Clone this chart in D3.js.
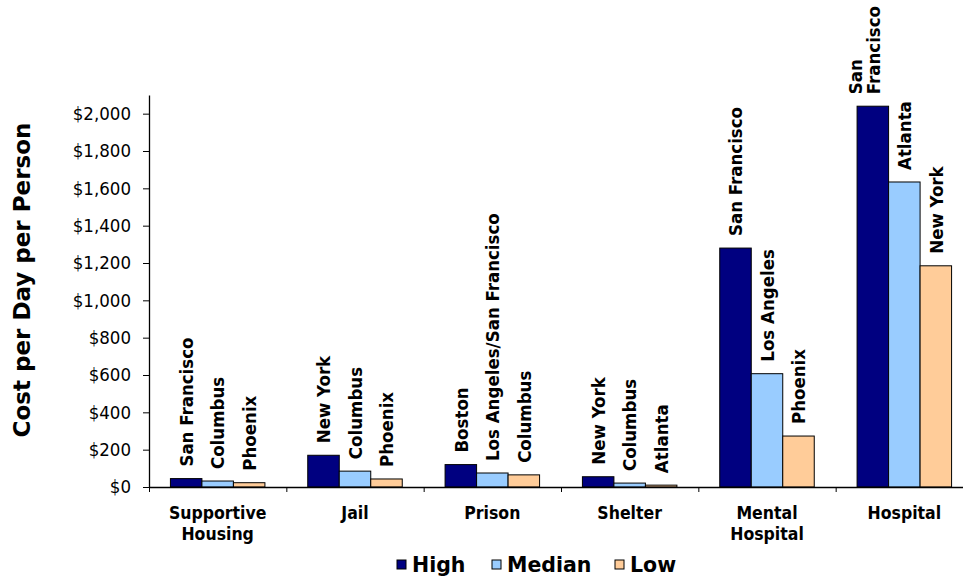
<!DOCTYPE html>
<html>
<head>
<meta charset="utf-8">
<script src="https://cdn.jsdelivr.net/npm/d3@7"></script>
<style>
  html, body { margin: 0; padding: 0; background: #ffffff; }
  svg { display: block; }
  .tick text { font-family: "DejaVu Sans Condensed", "DejaVu Sans", sans-serif; font-stretch: condensed; }
</style>
</head>
<body>
<svg id="chart" width="963" height="577"></svg>
<script>
// Daily cost of housing each person, by setting
const categories = ["Supportive\nHousing", "Jail", "Prison", "Shelter", "Mental\nHospital", "Hospital"];
const seriesNames = ["High", "Median", "Low"];
const highValues   = [45, 170, 120, 55, 1280, 2040];
const medianValues = [32, 85, 75, 21, 607, 1634];
const lowValues    = [23, 43, 65, 10, 273, 1185];
const highCities   = ["San Francisco", "New York", "Boston", "New York", "San Francisco", "San\nFrancisco"];
const medianCities = ["Columbus", "Columbus", "Los Angeles/San Francisco", "Columbus", "Los Angeles", "Atlanta"];
const lowCities    = ["Phoenix", "Phoenix", "Columbus", "Atlanta", "Phoenix", "New York"];
const yTicks = [0, 200, 400, 600, 800, 1000, 1200, 1400, 1600, 1800, 2000];
const colors = ["#000080", "#99CCFF", "#FFCC99"];

const seriesValues = [highValues, medianValues, lowValues];
const seriesCities = [highCities, medianCities, lowCities];

const svg = d3.select("#chart");
const plotLeft = 149, plotRight = 973, plotTop = 95, plotBottom = 487;

const y = d3.scaleLinear().domain([0, 2100]).range([plotBottom, plotTop]);
const x0 = d3.scaleBand().domain(categories).range([plotLeft, plotRight]).padding(0);
const x1 = d3.scaleBand().domain(seriesNames).range([0, x0.bandwidth()])
  .paddingInner(0).paddingOuter(0.68);
const color = d3.scaleOrdinal().domain(seriesNames).range(colors);

const condensed = '"DejaVu Sans Condensed", "DejaVu Sans", sans-serif';
const regular = '"DejaVu Sans", sans-serif';

// Y axis
const yAxis = svg.append("g")
  .attr("transform", `translate(${plotLeft},0)`)
  .call(d3.axisLeft(y).tickValues(yTicks).tickSize(6).tickSizeOuter(0)
    .tickFormat(d => "$" + d3.format(",")(d)));
yAxis.select(".domain").attr("stroke", "#000").attr("stroke-width", 1.3);
yAxis.selectAll(".tick line").attr("stroke", "#000");
yAxis.selectAll(".tick text")
  .attr("x", -18)
  .attr("fill", "#000")
  .style("font-size", "18.5px");

// Bars
const rows = categories.map((c, i) => ({
  cat: c,
  items: seriesNames.map((s, k) => ({ series: s, value: seriesValues[k][i], city: seriesCities[k][i] }))
}));

const groups = svg.append("g").selectAll("g")
  .data(rows).join("g")
  .attr("transform", d => `translate(${x0(d.cat)},0)`);

groups.selectAll("rect")
  .data(d => d.items).join("rect")
  .attr("x", d => x1(d.series))
  .attr("y", d => y(d.value))
  .attr("width", x1.bandwidth())
  .attr("height", d => y(0) - y(d.value))
  .attr("fill", d => color(d.series))
  .attr("stroke", "#000")
  .attr("stroke-width", 1);

// City labels, rotated, sitting on top of each bar
const lineStep = 18;
groups.selectAll("g.city")
  .data(d => d.items).join("g")
  .attr("class", "city")
  .attr("transform", d => `translate(${x1(d.series) + x1.bandwidth() / 2},${y(d.value) - 12}) rotate(-90)`)
  .each(function (d) {
    const lines = d.city.split("\n");
    const t = d3.select(this).append("text")
      .attr("font-family", condensed)
      .style("font-stretch", "condensed")
      .attr("font-weight", "bold")
      .attr("font-size", 18.5)
      .attr("fill", "#000")
      .attr("text-anchor", "start");
    lines.forEach((ln, j) => {
      t.append("tspan")
        .attr("x", 0)
        .attr("y", (j - (lines.length - 1)) * lineStep)
        .attr("dy", "0.36em")
        .text(ln);
    });
  });

// X axis with tick marks between categories
const xEdge = d3.scaleLinear().domain([0, categories.length]).range([plotLeft, plotRight]);
const xAxis = svg.append("g")
  .attr("transform", `translate(0,${plotBottom})`)
  .call(d3.axisBottom(xEdge).tickValues(d3.range(categories.length + 1))
    .tickFormat("").tickSize(5).tickSizeOuter(0));
xAxis.select(".domain").attr("stroke", "#000").attr("stroke-width", 1.3);
xAxis.selectAll(".tick line").attr("stroke", "#000");

// Category names
svg.append("g").selectAll("text")
  .data(categories).join("text")
  .attr("x", d => x0(d) + x0.bandwidth() / 2)
  .attr("y", 519)
  .attr("text-anchor", "middle")
  .attr("font-family", condensed)
  .style("font-stretch", "condensed")
  .attr("font-weight", "bold")
  .attr("font-size", 17.5)
  .attr("fill", "#000")
  .each(function (d) {
    d.split("\n").forEach((ln, j) => {
      d3.select(this).append("tspan")
        .attr("x", x0(d) + x0.bandwidth() / 2)
        .attr("dy", j === 0 ? 0 : 21)
        .text(ln);
    });
  });

// Y axis title
svg.append("text")
  .attr("transform", `translate(30,280) rotate(-90)`)
  .attr("text-anchor", "middle")
  .attr("font-family", regular)
  .attr("font-weight", "bold")
  .attr("font-size", 23)
  .attr("fill", "#000")
  .text("Cost per Day per Person");

// Legend
const legendX = [397, 492, 615];
const legend = svg.append("g").selectAll("g")
  .data(seriesNames).join("g")
  .attr("transform", (d, i) => `translate(${legendX[i]},565)`);
legend.append("rect")
  .attr("x", 0).attr("y", -5)
  .attr("width", 9).attr("height", 9)
  .attr("fill", d => color(d))
  .attr("stroke", "#000").attr("stroke-width", 1);
legend.append("text")
  .attr("x", 15).attr("y", 7)
  .attr("font-family", regular)
  .attr("font-weight", "bold")
  .attr("font-size", 20.5)
  .attr("fill", "#000")
  .text(d => d);
</script>
</body>
</html>
